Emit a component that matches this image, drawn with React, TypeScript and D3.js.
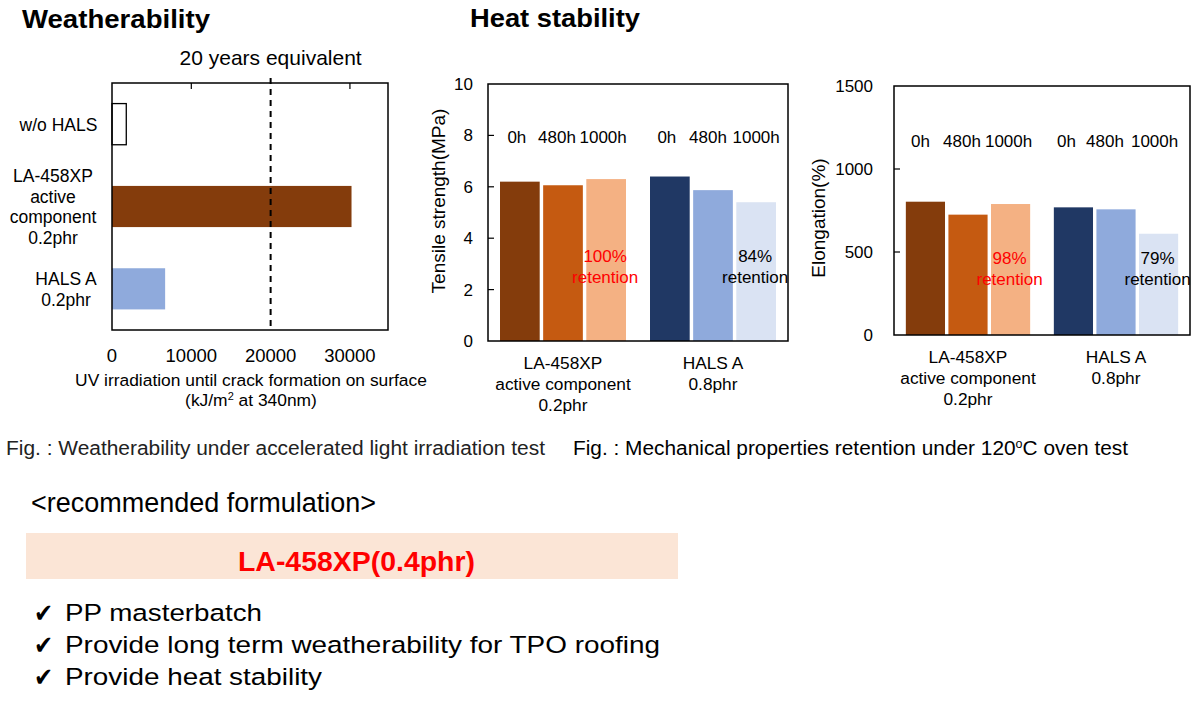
import React from 'react';
import * as d3 from 'd3';

const weatherCategories = ['w/o HALS', 'LA-458XP active component 0.2phr', 'HALS A 0.2phr'];
const weatherLabelLines = [['w/o HALS'], ['LA-458XP', 'active', 'component', '0.2phr'], ['HALS A', '0.2phr']];
const weatherValues = [1800, 30200, 6700];
const weatherTicks = [0, 10000, 20000, 30000];
const twentyYears = 20000;

const heatGroups = ['LA-458XP', 'HALS A'];
const heatGroupLines = [['LA-458XP', 'active component', '0.2phr'], ['HALS A', '0.8phr']];
const heatTimes = ['0h', '480h', '1000h'];
const tensileLA = [6.2, 6.06, 6.3];
const tensileHALS = [6.4, 5.87, 5.4];
const tensileTicks = [0, 2, 4, 6, 8, 10];
const elongLA = [803, 725, 789];
const elongHALS = [769, 757, 610];
const elongTicks = [0, 500, 1000, 1500];
const tensileRetention = ['100%', '84%'];
const elongRetention = ['98%', '79%'];

const bullets = ['PP masterbatch', 'Provide long term weatherability for TPO roofing', 'Provide heat stability'];

const colorsLA = ['#843C0C', '#C55A11', '#F4B183'];
const colorsHALS = ['#203864', '#8FAADC', '#DAE3F3'];
const FONT = '"Liberation Sans", Arial, sans-serif';

function WeatherChart() {
  const L = 112, R = 388, T = 83, B = 330;
  const x = d3.scaleLinear().domain([0, 34800]).range([L, R]);
  const y = d3.scaleBand().domain(weatherCategories).range([T, B]).paddingInner(0.5).paddingOuter(0.25);
  const fills = ['#FFFFFF', '#843C0C', '#8FAADC'];
  const centers = [58.5, 53, 66];
  return (
    <g fontFamily={FONT}>
      <text x={22} y={28} fontSize={26} fontWeight="bold" textLength={188} lengthAdjust="spacingAndGlyphs">Weatherability</text>
      <text x={x(twentyYears)} y={65} fontSize={21} textAnchor="middle">20 years equivalent</text>
      {weatherCategories.map((c, i) => (
        <rect key={c} x={x(0)} y={y(c)} width={x(weatherValues[i]) - x(0)} height={y.bandwidth()}
          fill={fills[i]} stroke={i === 0 ? '#000' : 'none'} strokeWidth={1.3} />
      ))}
      <line x1={x(twentyYears)} x2={x(twentyYears)} y1={78} y2={B} stroke="#000" strokeWidth={2} strokeDasharray="6,5" />
      <rect x={L} y={T} width={R - L} height={B - T} fill="none" stroke="#000" strokeWidth={1.5} />
      {weatherTicks.filter(t => t > 0 && t !== twentyYears).map(t => (
        <line key={t} x1={x(t)} x2={x(t)} y1={T} y2={T + 6} stroke="#000" strokeWidth={1.2} />
      ))}
      {weatherTicks.map(t => (
        <text key={t} x={x(t)} y={362} fontSize={18.5} textAnchor="middle">{t}</text>
      ))}
      {weatherLabelLines.map((lines, i) => {
        const cy = y(weatherCategories[i])! + y.bandwidth() / 2;
        const lh = 20.7;
        return lines.map((ln, j) => (
          <text key={i + '-' + j} x={centers[i]} y={cy + (j - (lines.length - 1) / 2) * lh + 6.5} fontSize={17.5} textAnchor="middle">{ln}</text>
        ));
      })}
      <text x={251} y={386} fontSize={17.4} textAnchor="middle">UV irradiation until crack formation on surface</text>
      <text x={251} y={406} fontSize={17.4} textAnchor="middle">(kJ/m<tspan dy={-6} fontSize={11}>2</tspan><tspan dy={6}> at 340nm)</tspan></text>
    </g>
  );
}

function GroupedChart(props: {
  L: number; R: number; T: number; B: number; max: number; ticks: number[];
  la: number[]; hals: number[]; title: string; titleX: number; titleY: number;
  retention: string[]; labelY: number; retY: number; catY: number; tickRight: number; offsets: number[][];
}) {
  const { L, R, T, B, max, ticks, la, hals, title, titleX, titleY, retention, labelY, retY, catY, tickRight, offsets } = props;
  const x0 = d3.scaleBand().domain(heatGroups).range([L, R]).paddingInner(0.16).paddingOuter(0.08);
  const x1 = d3.scaleBand().domain(heatTimes).range([0, x0.bandwidth()]).paddingInner(0.08).paddingOuter(0);
  const y = d3.scaleLinear().domain([0, max]).range([B, T]);
  const series = [la, hals];
  const colors = [colorsLA, colorsHALS];
  return (
    <g fontFamily={FONT}>
      {heatGroups.map((g, gi) => heatTimes.map((t, ti) => (
        <rect key={g + t} x={x0(g)! + x1(t)!} y={y(series[gi][ti])} width={x1.bandwidth()} height={y(0) - y(series[gi][ti])}
          fill={colors[gi][ti]} />
      )))}
      <rect x={L} y={T} width={R - L} height={B - T} fill="none" stroke="#000" strokeWidth={1.5} />
      {ticks.filter(t => t > 0 && t < max).map(t => (
        <line key={t} x1={L} x2={L + 6} y1={y(t)} y2={y(t)} stroke="#000" strokeWidth={1.2} />
      ))}
      {ticks.map(t => (
        <text key={t} x={tickRight} y={y(t) + 6} fontSize={17} textAnchor="end">{t}</text>
      ))}
      {heatGroups.map((g, gi) => heatTimes.map((t, ti) => (
        <text key={'l' + g + t} x={x0(g)! + x1(t)! + x1.bandwidth() / 2 + offsets[gi][ti]} y={labelY} fontSize={17} textAnchor="middle">{t}</text>
      )))}
      {heatGroups.map((g, gi) => {
        const cx = x0(g)! + x1('1000h')! + x1.bandwidth() / 2 - 1;
        const col = gi === 0 ? '#FF0000' : '#000';
        return (
          <g key={'r' + g}>
            <text x={cx} y={retY} fontSize={17} textAnchor="middle" fill={col}>{retention[gi]}</text>
            <text x={cx} y={retY + 20.5} fontSize={17} textAnchor="middle" fill={col}>retention</text>
          </g>
        );
      })}
      {heatGroupLines.map((lines, gi) => lines.map((ln, j) => (
        <text key={'c' + gi + j} x={x0(heatGroups[gi])! + x0.bandwidth() / 2} y={catY + j * 21} fontSize={17.3} textAnchor="middle">{ln}</text>
      )))}
      <text transform={`translate(${titleX},${titleY}) rotate(-90)`} fontSize={19} textAnchor="middle" dy={7}>{title}</text>
    </g>
  );
}

export default function App() {
  return (
    <svg width={1200} height={709} style={{ position: 'absolute', left: 0, top: 0, background: '#fff' }}>
      <rect x={0} y={0} width={1200} height={709} fill="#fff" />
      <WeatherChart />
      <text x={470} y={27} fontSize={26} fontWeight="bold" fontFamily={FONT} textLength={170} lengthAdjust="spacingAndGlyphs">Heat stability</text>
      <GroupedChart L={488} R={788} T={84} B={341} max={10} ticks={tensileTicks} la={tensileLA} hals={tensileHALS}
        title="Tensile strength(MPa)" titleX={438} titleY={201} retention={tensileRetention}
        labelY={143} retY={262} catY={369} tickRight={473} offsets={[[-3, -6, -3], [-3, -5, 0]]} />
      <GroupedChart L={894} R={1190} T={86} B={335} max={1500} ticks={elongTicks} la={elongLA} hals={elongHALS}
        title="Elongation(%)" titleX={818} titleY={218} retention={elongRetention}
        labelY={147} retY={264} catY={363} tickRight={873} offsets={[[-5, -6, -2], [-7, -11, -4]]} />
      <g fontFamily={FONT}>
        <text x={6} y={455} fontSize={20} fill="#222" textLength={539} lengthAdjust="spacingAndGlyphs">Fig. : Weatherability under accelerated light irradiation test</text>
        <text x={573} y={455} fontSize={20} fill="#000" textLength={555} lengthAdjust="spacingAndGlyphs">Fig. : Mechanical properties retention under 120<tspan dy={-7} fontSize={12}>o</tspan><tspan dy={7}>C oven test</tspan></text>
        <text x={31} y={512} fontSize={27} textLength={345} lengthAdjust="spacingAndGlyphs">&lt;recommended formulation&gt;</text>
        <rect x={26} y={533} width={652} height={46} fill="#FBE5D6" />
        <text x={238} y={571} fontSize={27} fontWeight="bold" fill="#FF0000" textLength={237} lengthAdjust="spacingAndGlyphs">LA-458XP(0.4phr)</text>
        {bullets.map((b, i) => (
          <g key={b}>
            <text x={34} y={622 + i * 32} fontSize={26} fontWeight="bold" fontFamily='"DejaVu Sans", sans-serif'
              textLength={19} lengthAdjust="spacingAndGlyphs">✔</text>
            <text x={65} y={621 + i * 32} fontSize={24.5}
              textLength={i === 0 ? 197 : i === 1 ? 595 : 257} lengthAdjust="spacingAndGlyphs">{b}</text>
          </g>
        ))}
      </g>
    </svg>
  );
}
